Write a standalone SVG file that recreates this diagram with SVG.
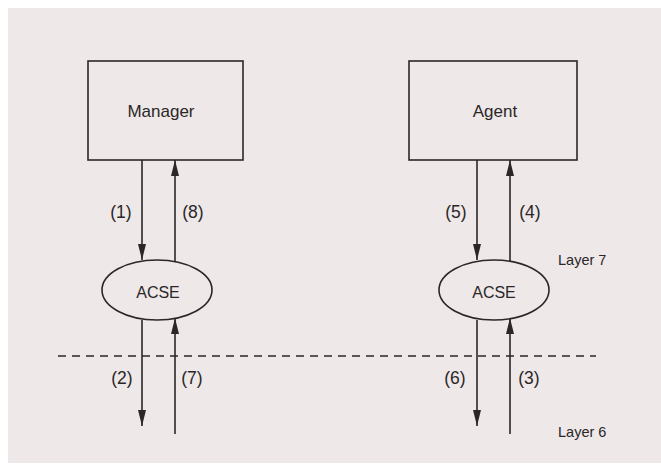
<svg xmlns="http://www.w3.org/2000/svg" width="661" height="473" viewBox="0 0 661 473">
  <style>
    .box { fill: none; stroke: #2b2727; stroke-width: 1.6; }
    .lbl { font-family: "Liberation Sans", Arial, sans-serif; fill: #2b2727; }
    .name { font-size: 17px; text-anchor: middle; }
    .acse { font-size: 16px; text-anchor: middle; }
    .step { font-size: 17.5px; text-anchor: middle; }
    .layer { font-size: 14.5px; }
    .wire { stroke: #2b2727; stroke-width: 1.6; fill: none; }
    .dash { stroke: #2b2727; stroke-width: 1.4; stroke-dasharray: 8 6; }
  </style>
  <defs>
    <marker id="arrow" viewBox="0 0 16 8" refX="16" refY="4" markerWidth="16" markerHeight="8" markerUnits="userSpaceOnUse" orient="auto">
      <path d="M0,0 L16,4 L0,8 Z" fill="#2b2727"/>
    </marker>
  </defs>

  <!-- paper -->
  <rect x="0" y="0" width="661" height="473" fill="#ffffff"/>
  <rect x="8" y="8" width="653" height="455" fill="#eee8e9"/>

  <!-- manager side -->
  <g id="manager">
    <rect class="box" x="88" y="61" width="155" height="99"/>
    <text class="lbl name" x="161" y="117">Manager</text>
  </g>
  <g id="acse-manager">
    <ellipse class="box" cx="157" cy="290" rx="55" ry="30"/>
    <text class="lbl acse" x="158" y="298">ACSE</text>
  </g>

  <!-- agent side -->
  <g id="agent">
    <rect class="box" x="409" y="61" width="168" height="99"/>
    <text class="lbl name" x="495" y="117">Agent</text>
  </g>
  <g id="acse-agent">
    <ellipse class="box" cx="494" cy="290" rx="55" ry="30"/>
    <text class="lbl acse" x="494" y="298">ACSE</text>
  </g>

  <!-- layer boundary -->
  <g id="boundary">
    <line class="dash" x1="58" y1="356" x2="596" y2="356"/>
    <text class="lbl layer" x="558" y="265">Layer 7</text>
    <text class="lbl layer" x="558" y="437">Layer 6</text>
  </g>

  <!-- primitives exchanged between the layers -->
  <g id="connectors">
    <line class="wire" x1="142" y1="160" x2="142" y2="260" marker-end="url(#arrow)"/>
    <line class="wire" x1="175" y1="262" x2="175" y2="160" marker-end="url(#arrow)"/>
    <line class="wire" x1="142" y1="320" x2="142" y2="426" marker-end="url(#arrow)"/>
    <line class="wire" x1="175" y1="434" x2="175" y2="318" marker-end="url(#arrow)"/>

    <line class="wire" x1="477" y1="160" x2="477" y2="260" marker-end="url(#arrow)"/>
    <line class="wire" x1="510" y1="262" x2="510" y2="160" marker-end="url(#arrow)"/>
    <line class="wire" x1="477" y1="320" x2="477" y2="426" marker-end="url(#arrow)"/>
    <line class="wire" x1="510" y1="434" x2="510" y2="318" marker-end="url(#arrow)"/>

    <text class="lbl step" x="121" y="218">(1)</text>
    <text class="lbl step" x="193" y="218">(8)</text>
    <text class="lbl step" x="122" y="384">(2)</text>
    <text class="lbl step" x="192" y="384">(7)</text>
    <text class="lbl step" x="456" y="218">(5)</text>
    <text class="lbl step" x="530" y="218">(4)</text>
    <text class="lbl step" x="455" y="384">(6)</text>
    <text class="lbl step" x="529" y="384">(3)</text>
  </g>
</svg>
